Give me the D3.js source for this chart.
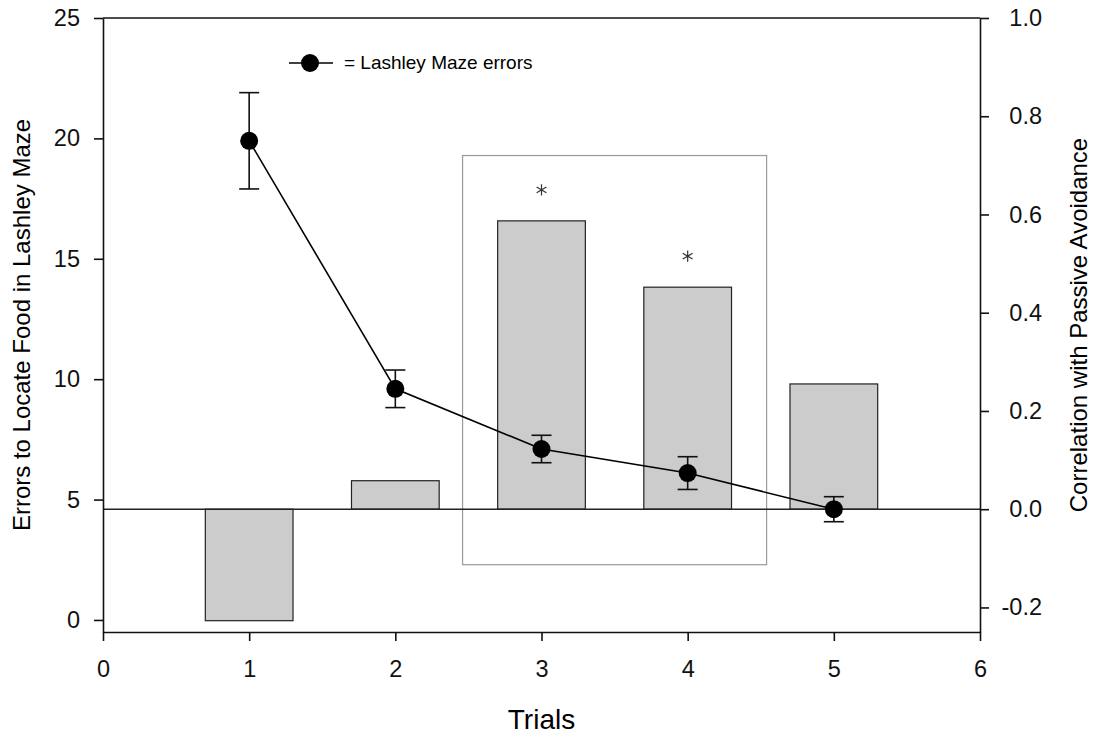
<!DOCTYPE html>
<html>
<head>
<meta charset="utf-8">
<script src="https://cdn.jsdelivr.net/npm/d3@7"></script>
<style>
  body { margin: 0; background: #fff; }
  svg { display: block; font-family: "Liberation Sans", Arial, sans-serif; }
</style>
</head>
<body>
<script>
// data
var trials = [1, 2, 3, 4, 5];
var errorsMean = [19.9, 9.6, 7.1, 6.1, 4.6];
var errorsSE = [2.0, 0.78, 0.57, 0.68, 0.52];
var correlation = [-0.227, 0.058, 0.587, 0.452, 0.255];
var significant = [false, false, true, true, false];

var xTicks = [0, 1, 2, 3, 4, 5, 6];
var leftTicks = [0, 5, 10, 15, 20, 25];
var rightTicks = [-0.2, 0.0, 0.2, 0.4, 0.6, 0.8, 1.0];

// box drawn round trials 3 and 4 (x in trials, y in correlation units)
var boxX = [2.46, 4.54];
var boxY = [-0.113, 0.72];

var width = 1103,
	height = 737,
	margin = {top: 18, right: 123, bottom: 105, left: 103};

var svg = d3.select("body").append("svg")
			.attr("width", width)
			.attr("height", height);

var x = d3.scaleLinear().domain([0, 6]).range([margin.left, width - margin.right]);
var yL = d3.scaleLinear().domain([-0.5, 25]).range([height - margin.bottom, margin.top]);
var yR = d3.scaleLinear().domain([-0.25, 1.0]).range([height - margin.bottom, margin.top]);

var barW = x(0.6) - x(0);

// highlight box
svg.append("rect")
	.attr("x", x(boxX[0]))
	.attr("y", yR(boxY[1]))
	.attr("width", x(boxX[1]) - x(boxX[0]))
	.attr("height", yR(boxY[0]) - yR(boxY[1]))
	.style("fill", "none")
	.style("stroke", "#9a9a9a")
	.style("stroke-width", 1.2);

// correlation bars
svg.selectAll(".bar")
	.data(trials)
	.enter()
	.append("rect")
	.attr("class", "bar")
	.attr("x", function(d){ return x(d) - barW / 2; })
	.attr("y", function(d, i){ return yR(Math.max(0, correlation[i])); })
	.attr("width", barW)
	.attr("height", function(d, i){ return Math.abs(yR(correlation[i]) - yR(0)); })
	.style("fill", "#cccccc")
	.style("stroke", "#222")
	.style("stroke-width", 1.2);

// zero line of the correlation axis
svg.append("line")
	.attr("x1", x(0)).attr("x2", x(6))
	.attr("y1", yR(0)).attr("y2", yR(0))
	.style("stroke", "#222")
	.style("stroke-width", 1.6);

// asterisks
svg.selectAll(".star")
	.data(trials.filter(function(d, i){ return significant[i]; }))
	.enter()
	.append("path")
	.attr("class", "star")
	.attr("d", d3.symbol().type(d3.symbolAsterisk).size(90))
	.attr("transform", function(d){
		return "translate(" + x(d) + "," + (yR(correlation[d - 1]) - 31) + ")";
	})
	.style("fill", "none")
	.style("stroke", "#333")
	.style("stroke-width", 1.2);

// error line
var line = d3.line()
	.x(function(d){ return x(d); })
	.y(function(d, i){ return yL(errorsMean[i]); });

svg.append("path")
	.datum(trials)
	.attr("d", line)
	.style("fill", "none")
	.style("stroke", "#000")
	.style("stroke-width", 1.6);

var eb = svg.selectAll(".err")
	.data(trials)
	.enter()
	.append("g")
	.attr("class", "err")
	.style("stroke", "#111")
	.style("stroke-width", 1.6);

eb.append("line")
	.attr("x1", function(d){ return x(d); })
	.attr("x2", function(d){ return x(d); })
	.attr("y1", function(d, i){ return yL(errorsMean[i] + errorsSE[i]); })
	.attr("y2", function(d, i){ return yL(errorsMean[i] - errorsSE[i]); });

eb.append("line")
	.attr("x1", function(d){ return x(d) - 10; })
	.attr("x2", function(d){ return x(d) + 10; })
	.attr("y1", function(d, i){ return yL(errorsMean[i] + errorsSE[i]); })
	.attr("y2", function(d, i){ return yL(errorsMean[i] + errorsSE[i]); });

eb.append("line")
	.attr("x1", function(d){ return x(d) - 10; })
	.attr("x2", function(d){ return x(d) + 10; })
	.attr("y1", function(d, i){ return yL(errorsMean[i] - errorsSE[i]); })
	.attr("y2", function(d, i){ return yL(errorsMean[i] - errorsSE[i]); });

svg.selectAll(".pt")
	.data(trials)
	.enter()
	.append("circle")
	.attr("class", "pt")
	.attr("cx", function(d){ return x(d); })
	.attr("cy", function(d, i){ return yL(errorsMean[i]); })
	.attr("r", 9)
	.style("fill", "#000");

// axes
function styleAxis(g){
	g.selectAll("path, line").style("stroke", "#111").style("stroke-width", 1.6);
	g.selectAll("text").style("font-size", "23.5px").style("fill", "#111");
}

svg.append("g")
	.attr("transform", "translate(0," + (height - margin.bottom) + ")")
	.call(d3.axisBottom(x).tickValues(xTicks).tickSize(9).tickSizeOuter(0).tickPadding(19).tickFormat(d3.format("d")))
	.call(styleAxis);

svg.append("g")
	.attr("transform", "translate(" + margin.left + ",0)")
	.call(d3.axisLeft(yL).tickValues(leftTicks).tickSize(9).tickSizeOuter(0).tickPadding(14).tickFormat(d3.format("d")))
	.call(styleAxis);

var right = svg.append("g")
	.attr("transform", "translate(" + (width - margin.right) + ",0)")
	.call(d3.axisRight(yR).tickValues(rightTicks).tickSize(9).tickSizeOuter(0)
		.tickFormat(function(d){ return d.toFixed(1); }))
	.call(styleAxis);
right.selectAll("text").attr("text-anchor", "end").attr("x", 62);

// top border
svg.append("line")
	.attr("x1", x(0)).attr("x2", x(6))
	.attr("y1", yL(25)).attr("y2", yL(25))
	.style("stroke", "#111")
	.style("stroke-width", 1.6);

// axis titles
svg.append("text")
	.attr("transform", "translate(30," + ((margin.top + height - margin.bottom) / 2) + ") rotate(-90)")
	.attr("text-anchor", "middle")
	.style("font-size", "24px")
	.text("Errors to Locate Food in Lashley Maze");

svg.append("text")
	.attr("transform", "translate(1087," + ((margin.top + height - margin.bottom) / 2) + ") rotate(-90)")
	.attr("text-anchor", "middle")
	.style("font-size", "24px")
	.text("Correlation with Passive Avoidance");

svg.append("text")
	.attr("x", x(3))
	.attr("y", 729)
	.attr("text-anchor", "middle")
	.style("font-size", "28px")
	.text("Trials");

// legend
var leg = svg.append("g").attr("transform", "translate(289,63)");
leg.append("line").attr("x1", 0).attr("x2", 44).attr("y1", 0).attr("y2", 0)
	.style("stroke", "#000").style("stroke-width", 1.6);
leg.append("circle").attr("cx", 21).attr("cy", 0).attr("r", 9).style("fill", "#000");
leg.append("text").attr("x", 55).attr("y", 6)
	.style("font-size", "19px")
	.text("= Lashley Maze errors");
</script>
</body>
</html>
